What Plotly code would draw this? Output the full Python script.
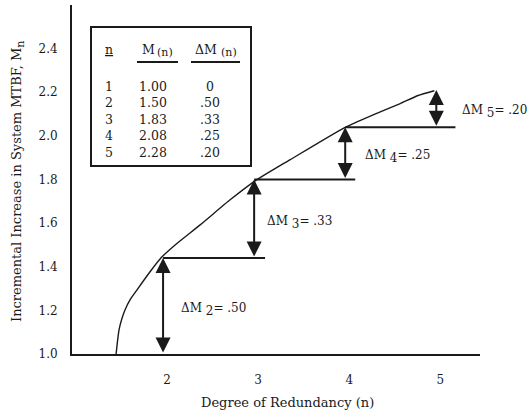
import plotly.graph_objects as go

# ---------------- data ----------------
n_vals = [1, 2, 3, 4, 5]
m_table = ["1.00", "1.50", "1.83", "2.08", "2.28"]
dm_table = ["0", ".50", ".33", ".25", ".20"]
# levels as drawn in the figure for n = 1..5
levels = [1.00, 1.44, 1.80, 2.04, 2.21]

curve_x = [1.484, 1.50, 1.516, 1.55, 1.582, 1.64, 1.714, 1.857, 1.978, 2.132,
           2.407, 2.736, 3.011, 3.396, 3.989, 4.30, 4.604, 4.80, 4.978]
curve_y = [1.000, 1.06, 1.110, 1.165, 1.202, 1.25, 1.294, 1.377, 1.441, 1.500,
           1.592, 1.707, 1.794, 1.891, 2.037, 2.095, 2.148, 2.185, 2.207]

x_ticks = [2, 3, 4, 5]
x_tick_text = ["2", "3", "4", "5"]
y_ticks = [1.0, 1.2, 1.4, 1.6, 1.8, 2.0, 2.2, 2.4]
y_tick_text = ["1.0", "1.2", "1.4", "1.6", "1.8", "2.0", "2.2", "2.4"]

# ---------------- layout helpers ----------------
W, H = 532, 411
L, R, T, B = 72, 52, 5, 57
PW, PH = W - L - R, H - T - B
FONT = "DejaVu Serif"
INK = "#1a1a1a"


def px(xp):
    return (xp - L) / PW


def py(yp):
    return (H - B - yp) / PH


def ptext(x, y, text, size=12.5, xanchor="center", yanchor="middle", **kw):
    d = dict(x=px(x), y=py(y), xref="paper", yref="paper", text=text, showarrow=False,
             xanchor=xanchor, yanchor=yanchor, font=dict(family=FONT, size=size, color=INK))
    d.update(kw)
    return d


def sub(s, size):
    return f'<sub><span style="font-size:{size}px">{s}</span></sub>'


fig = go.Figure()

fig.add_trace(go.Scatter(x=curve_x, y=curve_y, mode="lines",
                         line=dict(color=INK, width=1.4, shape="spline", smoothing=0.5),
                         hoverinfo="skip", showlegend=False, cliponaxis=False))

shapes = []
annotations = []

# horizontal step lines and double arrows
line_ext = [1.12, 1.11, 1.21]
label_dx = [0.18, 0.12, 0.19, 0.26]
for i in range(1, 5):
    n = n_vals[i]
    lv = levels[i]
    lo = levels[i - 1]
    if i < 4:
        shapes.append(dict(type="line", xref="x", yref="y", x0=n, x1=n + line_ext[i - 1],
                           y0=lv, y1=lv, line=dict(color=INK, width=2)))
    annotations.append(dict(x=n, y=lv, ax=n, ay=lo, xref="x", yref="y", axref="x", ayref="y",
                            text="", showarrow=True, arrowhead=2, startarrowhead=2,
                            arrowside="end+start", arrowsize=1.5, startarrowsize=1.5,
                            arrowwidth=2, arrowcolor=INK, standoff=0, startstandoff=0))
    annotations.append(dict(x=n + label_dx[i - 1], y=(lv + lo) / 2 - 0.015, xref="x", yref="y",
                            text=f"ΔM {sub(n, 12)}= {dm_table[i]}", showarrow=False,
                            xanchor="left", yanchor="middle",
                            font=dict(family=FONT, size=12, color=INK)))

# table box
shapes.append(dict(type="rect", xref="paper", yref="paper", x0=px(91), x1=px(251),
                   y0=py(166), y1=py(27), line=dict(color=INK, width=2), fillcolor="white",
                   layer="above"))
shapes.append(dict(type="line", xref="paper", yref="paper", x0=px(137), x1=px(178),
                   y0=py(62), y1=py(62), line=dict(color=INK, width=2)))
shapes.append(dict(type="line", xref="paper", yref="paper", x0=px(191), x1=px(240),
                   y0=py(62), y1=py(62), line=dict(color=INK, width=2)))

annotations.append(ptext(109, 50, "<u>n</u>"))
annotations.append(ptext(140, 50, "M", xanchor="left"))
annotations.append(ptext(155, 53, "(n)", size=11, xanchor="left"))
annotations.append(ptext(193, 50, "ΔM", xanchor="left"))
annotations.append(ptext(219, 53, "(n)", size=11, xanchor="left"))
for i, n in enumerate(n_vals):
    yy = 86 + i * 16.5
    annotations.append(ptext(109, yy, str(n)))
    annotations.append(ptext(137, yy, m_table[i], xanchor="left"))
    annotations.append(ptext(210, yy, dm_table[i]))

# axis titles
annotations.append(ptext(18, 182, "Incremental Increase in System MTBF, M" + sub("n", 11),
                         size=13, textangle=-90))
annotations.append(ptext(287, 402, "Degree of Redundancy (n)", size=13))

xr = [1, 5.48]
yr = [1.0, 2.60]

fig.update_layout(
    width=W, height=H, margin=dict(l=L, r=R, t=T, b=B),
    paper_bgcolor="white", plot_bgcolor="white",
    shapes=shapes, annotations=annotations, showlegend=False,
    xaxis=dict(range=xr, showgrid=False, zeroline=False, showline=True, linecolor=INK,
               linewidth=2, tickvals=x_ticks, ticktext=x_tick_text, ticks="",
               ticklabelstandoff=14, ticklabelshift=4,
               tickfont=dict(family=FONT, size=12, color=INK)),
    yaxis=dict(range=yr, showgrid=False, zeroline=False, showline=True, linecolor=INK,
               linewidth=2, tickvals=y_ticks, ticktext=y_tick_text, ticks="",
               ticklabelstandoff=10,
               tickfont=dict(family=FONT, size=12, color=INK)),
    xaxis2=dict(range=xr, overlaying="x", showgrid=False, zeroline=False, showline=False,
                tickvals=x_ticks, ticks="outside", ticklen=8, tickwidth=2, tickcolor=INK,
                showticklabels=False),
    xaxis3=dict(range=xr, overlaying="x", showgrid=False, zeroline=False, showline=False,
                tickvals=x_ticks, ticks="inside", ticklen=5, tickwidth=2, tickcolor=INK,
                showticklabels=False),
    yaxis2=dict(range=yr, overlaying="y", showgrid=False, zeroline=False, showline=False,
                tickvals=y_ticks[1:], ticks="outside", ticklen=9, tickwidth=2, tickcolor=INK,
                showticklabels=False),
    yaxis3=dict(range=yr, overlaying="y", showgrid=False, zeroline=False, showline=False,
                tickvals=y_ticks[1:], ticks="inside", ticklen=5, tickwidth=2, tickcolor=INK,
                showticklabels=False),
)

fig.write_html("out.html", config={"displayModeBar": False},
               post_script="document.body.style.margin='0';")
